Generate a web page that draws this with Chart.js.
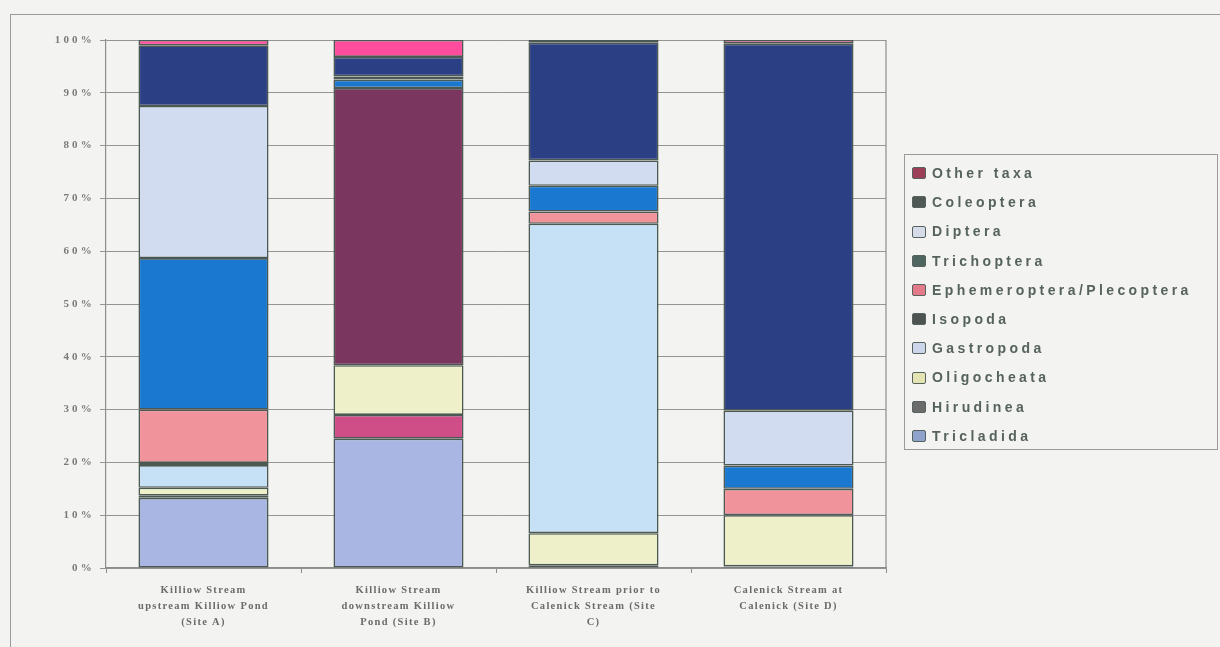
<!DOCTYPE html>
<html>
<head>
<meta charset="utf-8">
<script src="https://cdn.jsdelivr.net/npm/chart.js@4/dist/chart.umd.min.js"></script>
<style>
  html, body { margin:0; padding:0; background:#f3f3f1; }
  #wrap { position:relative; width:1220px; height:647px; overflow:hidden; background:#f3f3f1; }
  #frame { position:absolute; left:10px; top:14px; width:1220px; height:700px; border-left:1.5px solid #9a9a9a; border-top:1.5px solid #9a9a9a; box-sizing:border-box; }
  #c { position:absolute; left:0; top:0; }
  #legend { position:absolute; left:904px; top:154px; width:314px; height:296px; border:1.5px solid #9a9a9a; box-sizing:border-box; }
  .item { position:absolute; left:7px; height:20px; line-height:20px; font-family:"Liberation Sans", Arial, sans-serif; font-weight:bold; font-size:14px; letter-spacing:3.4px; color:#56635d; white-space:nowrap; }
  .sw { display:inline-block; width:12px; height:10px; border:1.5px solid #56625d; border-radius:2px; vertical-align:middle; margin-right:6px; position:relative; top:-1px; }
</style>
</head>
<body>
<div id="wrap">
  <div id="frame"></div>
  <canvas id="c" width="1220" height="647"></canvas>
  <div id="legend"></div>
</div>
<script>
// ---- data ----
const categories = [
  ["Killiow Stream", "upstream Killiow Pond", "(Site A)"],
  ["Killiow Stream", "downstream Killiow", "Pond (Site B)"],
  ["Killiow Stream prior to", "Calenick Stream (Site", "C)"],
  ["Calenick Stream at", "Calenick (Site D)"]
];
const seriesNames = ["Tricladida", "Hirudinea", "Oligocheata", "Gastropoda", "Isopoda",
  "Ephemeroptera/Plecoptera", "Trichoptera", "Diptera", "Coleoptera", "Other taxa"];
const tricladida    = [13.3, 24.5, 0.5, 0.3];
const hirudinea     = [0.4, 4.5, 0, 0];
const oligocheata   = [1.5, 9.4, 6.1, 9.7];
const gastropoda    = [4.3, 0, 58.6, 0];
const isopoda       = [0.4, 52.5, 0, 0];
const ephemeroptera = [10.1, 0, 2.3, 5.0];
const trichoptera   = [28.7, 1.6, 4.9, 4.4];
const diptera       = [28.8, 0.6, 4.8, 10.4];
const coleoptera    = [11.5, 3.7, 22.3, 69.5];
const otherTaxa     = [1.0, 3.2, 0.5, 0.7];
const yTicks = [0, 10, 20, 30, 40, 50, 60, 70, 80, 90, 100];

// ---- styles ----
const seriesValues = [tricladida, hirudinea, oligocheata, gastropoda, isopoda,
  ephemeroptera, trichoptera, diptera, coleoptera, otherTaxa];
const barColors = ["#a9b5e2", "#cf4e88", "#eef0c9", "#c6e0f5", "#7a365f",
  "#f0939b", "#1b78d0", "#d2dcf0", "#2b3f84", "#ff4c9c"];
const swatchColors = ["#8ea2cc", "#6c6c6c", "#e4e4b2", "#cdd5ea", "#4d5351",
  "#e27a89", "#4f6660", "#d6dbe8", "#4f5855", "#9b4057"];

const datasets = seriesNames.map((n, i) => ({
  label: n,
  data: seriesValues[i],
  backgroundColor: barColors[i],
  borderColor: "#4c5953",
  borderWidth: 1.6,
  borderSkipped: false,
  barPercentage: 0.667,
  categoryPercentage: 1.0
}));

const spacingPlugin = {
  id: 'spacing',
  afterLayout(chart) {
    const sp = { x: '1.3px', y: '3.2px' };
    Object.values(chart.scales).forEach(s => {
      if (s._wrapped) return;
      const orig = s.drawLabels;
      s.drawLabels = function (a) {
        const ctx = this.ctx;
        ctx.save();
        ctx.letterSpacing = sp[this.id] || '0px';
        orig.call(this, a);
        ctx.restore();
      };
      s._wrapped = true;
    });
  }
};

const framePlugin = {
  id: 'frameLine',
  afterDraw(chart) {
    const { ctx, chartArea } = chart;
    ctx.save();
    ctx.strokeStyle = '#8c8c8c';
    ctx.lineWidth = 1.2;
    ctx.beginPath();
    ctx.moveTo(chartArea.right, chartArea.top);
    ctx.lineTo(chartArea.right, chartArea.bottom);
    ctx.stroke();
    ctx.restore();
  }
};

new Chart(document.getElementById('c'), {
  type: 'bar',
  data: { labels: categories, datasets },
  plugins: [spacingPlugin, framePlugin],
  options: {
    responsive: false,
    animation: false,
    layout: { padding: { left: 0, top: 40, right: 334, bottom: 0 } },
    plugins: { legend: { display: false }, tooltip: { enabled: false } },
    scales: {
      x: {
        stacked: true,
        afterFit(s) { s.height = 79; },
        grid: { display: true, drawOnChartArea: false, drawTicks: true, tickLength: 5, color: '#8c8c8c', offset: true },
        border: { display: true, color: '#8c8c8c', width: 1.2 },
        ticks: {
          color: '#6b6b6b', padding: 9, maxRotation: 0, autoSkip: false,
          font: { family: "'Liberation Serif', 'DejaVu Serif', serif", size: 10.5, weight: 'bold', lineHeight: 1.52 }
        }
      },
      y: {
        stacked: true,
        min: 0, max: 100,
        afterFit(s) { s.width = 106; },
        afterBuildTicks(s) { s.ticks = yTicks.map(v => ({ value: v })); },
        grid: { color: '#959595', lineWidth: 1, drawTicks: true, tickLength: 6 },
        border: { display: true, color: '#8c8c8c', width: 1.2 },
        ticks: {
          color: '#7a7a7a', padding: 5,
          callback: v => v + '%',
          font: { family: "'Liberation Serif', 'DejaVu Serif', serif", size: 11, weight: 'bold' }
        }
      }
    }
  }
});

// ---- legend (reverse order, as in the original) ----
const leg = document.getElementById('legend');
const order = seriesNames.map((_, i) => i).reverse();
order.forEach((idx, k) => {
  const d = document.createElement('div');
  d.className = 'item';
  d.style.top = (8 + k * 29.2) + 'px';
  const sw = document.createElement('span');
  sw.className = 'sw';
  sw.style.background = swatchColors[idx];
  d.appendChild(sw);
  d.appendChild(document.createTextNode(seriesNames[idx]));
  leg.appendChild(d);
});
</script>
</body>
</html>
